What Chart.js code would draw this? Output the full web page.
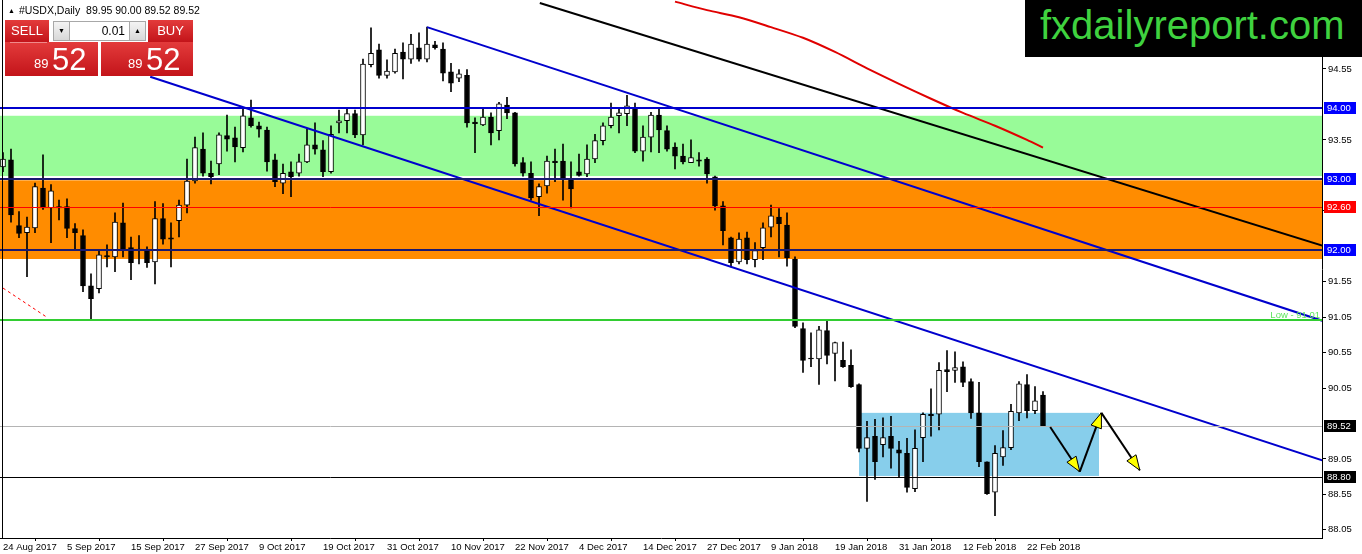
<!DOCTYPE html>
<html>
<head>
<meta charset="utf-8">
<title>#USDX,Daily</title>
<script src="https://cdn.jsdelivr.net/npm/chart.js@4.4.1/dist/chart.umd.min.js"></script>
<style>
  html, body { margin: 0; padding: 0; background: #fff; }
  #wrap { position: relative; width: 1362px; height: 554px; overflow: hidden; font-family: "Liberation Sans", Arial, sans-serif; }
  #chart { position: absolute; left: 0; top: 0; }
  .abs { position: absolute; }
  #title { left: 8px; top: 3px; font-size: 10.5px; color: #000; white-space: pre; line-height: 14px; }
  #title .tri { font-size: 7px; margin-right: 4px; vertical-align: 1px; }
  .red { background: linear-gradient(#e33b3b, #c3141a); color: #fff; }
  .btn { top: 20px; height: 22px; line-height: 22px; font-size: 13px; text-align: center; }
  #sell { left: 5px; width: 44px; }
  #buy { left: 148px; width: 45px; }
  .spin { top: 21px; height: 20px; width: 17px; background: linear-gradient(#f4f4f4, #d8d8d8); border: 1px solid #a8a8a8; box-sizing: border-box; font-size: 7px; line-height: 18px; text-align: center; color: #000; }
  #dn { left: 53px; }
  #up { left: 129px; }
  #lot { left: 70px; top: 21px; width: 59px; height: 20px; background: #fff; border-top: 1px solid #a8a8a8; border-bottom: 1px solid #a8a8a8; box-sizing: border-box; font-size: 12px; line-height: 18px; text-align: right; padding-right: 4px; color: #000; }
  .px { top: 42px; height: 34px; }
  #pxl { left: 5px; width: 93px; }
  #pxr { left: 101px; width: 92px; }
  .px .s { position: absolute; bottom: 5px; font-size: 13px; }
  .px .b { position: absolute; bottom: 1px; font-size: 31px; line-height: 31px; }
  #pxl .s { left: 29px; } #pxl .b { left: 47px; }
  #pxr .s { left: 27px; } #pxr .b { left: 45px; }
  #sellline { left: 10px; top: 42px; width: 37px; height: 1px; background: #f08a8a; }
  #logo { left: 1025px; top: 0; width: 337px; height: 57px; background: #000; }
  #logo span { position: absolute; left: 15px; top: 5px; font-size: 40px; line-height: 40px; color: #3fd23f; white-space: nowrap; }
</style>
</head>
<body>
<div id="wrap">
  <canvas id="chart" width="1362" height="554"></canvas>
  <div id="title" class="abs"><span class="tri">&#9650;</span>#USDX,Daily  89.95 90.00 89.52 89.52</div>
  <div id="sell" class="abs btn red">SELL</div>
  <div id="dn" class="abs spin">&#9660;</div>
  <div id="lot" class="abs">0.01</div>
  <div id="up" class="abs spin">&#9650;</div>
  <div id="buy" class="abs btn red">BUY</div>
  <div id="pxl" class="abs px red"><span class="s">89</span><span class="b">52</span></div>
  <div id="pxr" class="abs px red"><span class="s">89</span><span class="b">52</span></div>
  <div id="sellline" class="abs"></div>
  <div id="logo" class="abs"><span>fxdailyreport.com</span></div>
</div>
<script>
// daily candles, 24 Aug 2017 .. 27 Feb 2018 (bar index = position in the arrays)
const opens = [
  93.17, 93.27, 92.34, 92.24, 92.31, 92.87, 92.59, 92.61, 92.61, 92.30,
  92.20, 91.49, 91.45, 91.92, 91.90, 92.38, 92.03, 92.01, 91.99, 91.83,
  92.44, 92.17, 92.41, 92.63, 92.97, 93.42, 93.08, 93.21, 93.61, 93.58,
  93.44, 93.86, 93.75, 93.69, 93.27, 92.94, 93.10, 93.08, 93.24, 93.48,
  93.41, 93.10, 93.79, 93.82, 93.92, 93.62, 94.61, 94.82, 94.46, 94.51,
  94.79, 94.69, 94.85, 94.69, 94.89, 94.83, 94.51, 94.42, 94.46, 93.80,
  93.76, 93.87, 93.68, 94.04, 93.93, 93.23, 93.08, 92.75, 92.90, 93.25,
  93.25, 92.99, 93.10, 93.07, 93.28, 93.54, 93.75, 93.89, 93.92, 94.01,
  93.39, 93.59, 93.90, 93.68, 93.45, 93.32, 93.23, 93.27, 93.28, 93.03,
  92.62, 92.17, 91.83, 92.17, 91.86, 92.03, 92.32, 92.46, 92.35, 91.87,
  90.89, 90.47, 90.46, 90.86, 90.54, 90.44, 90.37, 90.10, 89.20, 89.37,
  89.25, 89.37, 89.18, 89.13, 88.63, 89.35, 89.68, 89.68, 90.31, 90.30,
  90.35, 90.14, 89.70, 89.01, 88.58, 89.08, 89.21, 89.70, 90.10, 89.73,
  89.95
];
const highs = [
  93.37, 93.42, 92.54, 92.46, 92.94, 93.34, 92.92, 92.70, 92.72, 92.37,
  92.28, 91.66, 91.99, 92.07, 92.52, 92.66, 92.18, 92.20, 92.04, 92.68,
  92.65, 92.38, 92.70, 93.28, 93.59, 93.65, 93.25, 93.65, 93.90, 93.73,
  94.00, 94.11, 93.80, 93.73, 93.35, 93.21, 93.24, 93.35, 93.70, 93.79,
  93.54, 93.75, 93.97, 93.99, 93.97, 94.69, 95.13, 94.90, 94.68, 94.83,
  94.92, 95.04, 95.06, 95.14, 94.94, 94.92, 94.63, 94.54, 94.54, 93.86,
  93.99, 93.93, 94.08, 94.15, 93.94, 93.30, 93.24, 92.93, 93.32, 93.42,
  93.49, 93.24, 93.35, 93.48, 93.63, 93.79, 94.07, 94.00, 94.18, 94.07,
  93.75, 93.94, 94.01, 93.75, 93.51, 93.49, 93.55, 93.37, 93.30, 93.04,
  92.68, 92.18, 92.24, 92.25, 92.10, 92.38, 92.63, 92.58, 92.52, 91.90,
  90.97, 90.83, 90.92, 90.99, 90.70, 90.70, 90.59, 90.11, 89.58, 89.61,
  89.63, 89.65, 89.30, 89.34, 89.46, 89.70, 90.04, 90.41, 90.58, 90.56,
  90.42, 90.18, 90.13, 89.01, 89.24, 89.45, 89.82, 90.14, 90.24, 90.07,
  90.00
];
const lows = [
  93.10, 92.39, 92.17, 91.62, 92.24, 92.57, 92.10, 92.42, 92.17, 91.99,
  91.41, 91.03, 91.39, 91.76, 91.69, 91.90, 91.58, 91.80, 91.75, 91.52,
  92.08, 91.76, 92.18, 92.52, 92.94, 93.04, 92.93, 93.06, 93.39, 93.24,
  93.38, 93.73, 93.59, 93.11, 92.89, 92.79, 92.75, 93.04, 93.23, 93.35,
  93.03, 93.08, 93.65, 93.65, 93.58, 93.48, 94.58, 94.42, 94.42, 94.49,
  94.41, 94.63, 94.66, 94.65, 94.83, 94.38, 94.23, 94.37, 93.73, 93.37,
  93.75, 93.48, 93.55, 93.85, 93.18, 93.04, 92.70, 92.48, 92.80, 92.96,
  92.70, 92.59, 93.04, 93.03, 93.23, 93.48, 93.72, 93.65, 93.75, 93.37,
  93.25, 93.38, 93.37, 93.39, 93.14, 93.21, 93.23, 93.18, 92.94, 92.56,
  92.07, 91.76, 91.80, 91.80, 91.76, 91.86, 92.18, 91.90, 91.77, 90.90,
  90.27, 90.35, 90.10, 90.39, 90.15, 90.34, 90.06, 89.15, 88.45, 88.76,
  89.08, 88.92, 88.80, 88.58, 88.59, 89.01, 89.37, 89.46, 90.00, 90.13,
  90.07, 89.62, 88.94, 88.55, 88.25, 88.96, 89.18, 89.59, 89.63, 89.69,
  89.52
];
const closes = [
  93.28, 92.49, 92.23, 92.32, 92.89, 92.59, 92.83, 92.59, 92.30, 92.24,
  91.49, 91.31, 91.93, 91.90, 92.39, 92.01, 91.82, 91.99, 91.82, 92.44,
  92.15, 92.15, 92.63, 92.97, 93.44, 93.08, 93.03, 93.62, 93.56, 93.45,
  93.89, 93.75, 93.70, 93.24, 92.96, 93.08, 93.03, 93.24, 93.48, 93.42,
  93.10, 93.63, 93.82, 93.92, 93.62, 94.62, 94.77, 94.46, 94.52, 94.77,
  94.69, 94.90, 94.69, 94.90, 94.85, 94.49, 94.35, 94.48, 93.79, 93.78,
  93.87, 93.65, 94.06, 93.93, 93.21, 93.08, 92.73, 92.89, 93.25, 93.23,
  93.00, 92.86, 93.05, 93.28, 93.54, 93.75, 93.87, 93.93, 94.03, 93.39,
  93.59, 93.90, 93.69, 93.42, 93.32, 93.24, 93.30, 93.25, 93.07, 92.62,
  92.27, 91.82, 92.15, 91.86, 91.99, 92.31, 92.48, 92.37, 91.89, 90.92,
  90.44, 90.46, 90.87, 90.51, 90.69, 90.35, 90.07, 89.20, 89.35, 89.01,
  89.35, 89.20, 89.13, 88.65, 89.20, 89.68, 89.66, 90.30, 90.28, 90.34,
  90.13, 89.70, 89.01, 88.56, 89.13, 89.21, 89.72, 90.11, 89.73, 89.87,
  89.52
];

// time axis labels (every 8th bar) and price axis ticks
const labelBars = [0, 8, 16, 24, 32, 40, 48, 56, 64, 72, 80, 88, 96, 104, 112, 120, 128];
const xTickLabels = ['24 Aug 2017', '5 Sep 2017', '15 Sep 2017', '27 Sep 2017', '9 Oct 2017',
  '19 Oct 2017', '31 Oct 2017', '10 Nov 2017', '22 Nov 2017', '4 Dec 2017', '14 Dec 2017',
  '27 Dec 2017', '9 Jan 2018', '19 Jan 2018', '31 Jan 2018', '12 Feb 2018', '22 Feb 2018'];
const yTicks = [88.05, 88.55, 89.05, 90.05, 90.55, 91.05, 91.55, 92.55, 93.55, 94.55];

// drawn objects
const zones = [[93.89, 93.04], [92.98, 91.87]];
const levels = [94.00, 93.00, 92.60, 92.00, 91.01, 89.52, 88.80];
const priceTags = [94.00, 93.00, 92.60, 92.00, 89.52, 88.80];
const boxBars = [107, 137];
const boxPrices = [89.70, 88.81];
const lowerChannel = [[18.4, 94.44], [164.9, 89.03]];
const upperChannel = [[53, 95.14], [164.9, 91.00]];
const blackTrend = [[67.1, 95.48], [164.9, 92.06]];
const dashedMa = [[0, 91.46], [5.6, 91.04]];
const maBars = [84, 88, 92, 96, 100, 104, 108, 112, 116, 120, 124, 128, 130];
const maValues = [95.50, 95.38, 95.28, 95.14, 94.99, 94.79, 94.56, 94.34, 94.13, 93.93, 93.75, 93.55, 93.44];
const arrowPath = [[130.9, 89.50], [134.6, 88.87], [137.3, 89.70], [142.1, 88.89]];

const zoneColors = ['#98FB98', '#FF8C00'];
const levelColors = ['#0000CD', '#191970', '#FF0000', '#191970', '#32CD32', '#B4B4B4', '#000000'];
const levelWidths = [2, 2, 1, 2, 2, 1, 1];
const tagColors = ['#0000FF', '#0000FF', '#FF0000', '#0000FF', '#000000', '#000000'];

const FONT = { family: 'Liberation Sans', size: 9.5 };
const xMin = -0.375, xMax = 164.875;
const yMin = 87.935, yMax = 95.523;

const pts = arr => arr.map(p => ({ x: p[0], y: p[1] }));
const line = (data, color, width, dash) => ({
  type: 'line', data: pts(data), borderColor: color, borderWidth: width,
  borderDash: dash || [], pointRadius: 0, fill: false, tension: 0, order: 0
});

const backdrop = {
  id: 'backdrop',
  beforeDatasetsDraw(chart) {
    const { ctx, chartArea: a, scales: { x, y } } = chart;
    ctx.save();
    zones.forEach((z, i) => {
      ctx.fillStyle = zoneColors[i];
      const t = y.getPixelForValue(z[0]), b = y.getPixelForValue(z[1]);
      ctx.fillRect(a.left, t, a.right - a.left, b - t);
    });
    ctx.fillStyle = '#87CEEB';
    const bx1 = x.getPixelForValue(boxBars[0]), bx2 = x.getPixelForValue(boxBars[1]);
    const by1 = y.getPixelForValue(boxPrices[0]), by2 = y.getPixelForValue(boxPrices[1]);
    ctx.fillRect(bx1, by1, bx2 - bx1, by2 - by1);
    ctx.restore();
  }
};

function arrow(ctx, x1, y1, x2, y2) {
  ctx.strokeStyle = '#000';
  ctx.lineWidth = 2;
  ctx.beginPath(); ctx.moveTo(x1, y1); ctx.lineTo(x2, y2); ctx.stroke();
  const a = Math.atan2(y2 - y1, x2 - x1), len = 15, w = 5.5;
  const bx = x2 - len * Math.cos(a), by = y2 - len * Math.sin(a);
  ctx.beginPath();
  ctx.moveTo(x2, y2);
  ctx.lineTo(bx + w * Math.sin(a), by - w * Math.cos(a));
  ctx.lineTo(bx - w * Math.sin(a), by + w * Math.cos(a));
  ctx.closePath();
  ctx.fillStyle = '#FFFF00';
  ctx.fill();
  ctx.lineWidth = 1;
  ctx.stroke();
}

const overlay = {
  id: 'overlay',
  afterDatasetsDraw(chart) {
    const { ctx, chartArea: a, scales: { x, y } } = chart;
    ctx.save();
    levels.forEach((v, i) => {
      const py = Math.round(y.getPixelForValue(v)) + (levelWidths[i] === 1 ? 0.5 : 0);
      ctx.strokeStyle = levelColors[i];
      ctx.lineWidth = levelWidths[i];
      ctx.beginPath(); ctx.moveTo(a.left, py); ctx.lineTo(a.right, py); ctx.stroke();
    });
    ctx.font = '9.5px "Liberation Sans"';
    ctx.fillStyle = '#5EE65E';
    ctx.textAlign = 'right';
    ctx.textBaseline = 'bottom';
    ctx.fillText('Low - 91.01', a.right - 2, y.getPixelForValue(91.01));
    for (let i = 1; i < arrowPath.length; i++) {
      arrow(ctx, x.getPixelForValue(arrowPath[i - 1][0]), y.getPixelForValue(arrowPath[i - 1][1]),
        x.getPixelForValue(arrowPath[i][0]), y.getPixelForValue(arrowPath[i][1]));
    }
    ctx.restore();
  },
  afterDraw(chart) {
    const { ctx, chartArea: a, scales: { y } } = chart;
    ctx.save();
    ctx.strokeStyle = '#000';
    ctx.lineWidth = 1;
    ctx.beginPath(); ctx.moveTo(2.5, a.top); ctx.lineTo(2.5, a.bottom); ctx.stroke();
    ctx.font = '9.5px "Liberation Sans"';
    ctx.textAlign = 'left';
    ctx.textBaseline = 'middle';
    priceTags.forEach((v, i) => {
      const py = Math.round(y.getPixelForValue(v));
      ctx.fillStyle = tagColors[i];
      ctx.fillRect(a.right + 2, py - 6, 32, 12);
      ctx.fillStyle = '#fff';
      ctx.fillText(v.toFixed(2), a.right + 5, py + 0.5);
    });
    ctx.restore();
  }
};

new Chart(document.getElementById('chart'), {
  type: 'bar',
  data: {
    datasets: [
      {
        data: highs.map((h, i) => ({ x: i, y: [lows[i], h] })),
        backgroundColor: '#000', barThickness: 1, borderWidth: 0,
        grouped: false, order: 2
      },
      {
        data: opens.map((o, i) => ({ x: i, y: [o, closes[i]] })),
        backgroundColor: opens.map((o, i) => closes[i] > o ? '#FFFFFF' : '#000000'),
        borderColor: '#000', borderWidth: 1, borderSkipped: false,
        barThickness: 5, minBarLength: 1, grouped: false, order: 1
      },
      line(lowerChannel, '#0000CD', 2),
      line(upperChannel, '#0000CD', 2),
      line(blackTrend, '#000000', 2),
      line(dashedMa, '#FF0000', 1, [3, 3]),
      {
        type: 'line', data: maBars.map((b, i) => ({ x: b, y: maValues[i] })),
        borderColor: '#E00000', borderWidth: 2, pointRadius: 0, fill: false,
        tension: 0.3, order: 0
      }
    ]
  },
  options: {
    responsive: false,
    animation: false,
    devicePixelRatio: 1,
    layout: { padding: 0 },
    plugins: { legend: { display: false }, tooltip: { enabled: false } },
    scales: {
      x: {
        type: 'linear', min: xMin, max: xMax, offset: false,
        grid: { display: true, drawOnChartArea: false, drawTicks: true, tickLength: 3, color: '#000' },
        border: { display: true, color: '#000', width: 1 },
        ticks: {
          align: 'start', maxRotation: 0, autoSkip: false, color: '#000', font: FONT, padding: 1,
          callback: v => xTickLabels[labelBars.indexOf(v)]
        },
        afterBuildTicks: s => { s.ticks = labelBars.map(v => ({ value: v })); },
        afterFit: s => { s.height = 16; s.paddingLeft = 0; s.paddingRight = 0; }
      },
      y: {
        position: 'right', min: yMin, max: yMax,
        grid: { display: true, drawOnChartArea: false, drawTicks: true, tickLength: 4, color: '#000' },
        border: { display: true, color: '#000', width: 1 },
        ticks: { color: '#000', font: FONT, padding: 2, callback: v => v.toFixed(2) },
        afterBuildTicks: s => { s.ticks = yTicks.map(v => ({ value: v })); },
        afterFit: s => { s.width = 40; s.paddingTop = 0; s.paddingBottom = 0; }
      }
    }
  },
  plugins: [backdrop, overlay]
});
</script>
</body>
</html>
